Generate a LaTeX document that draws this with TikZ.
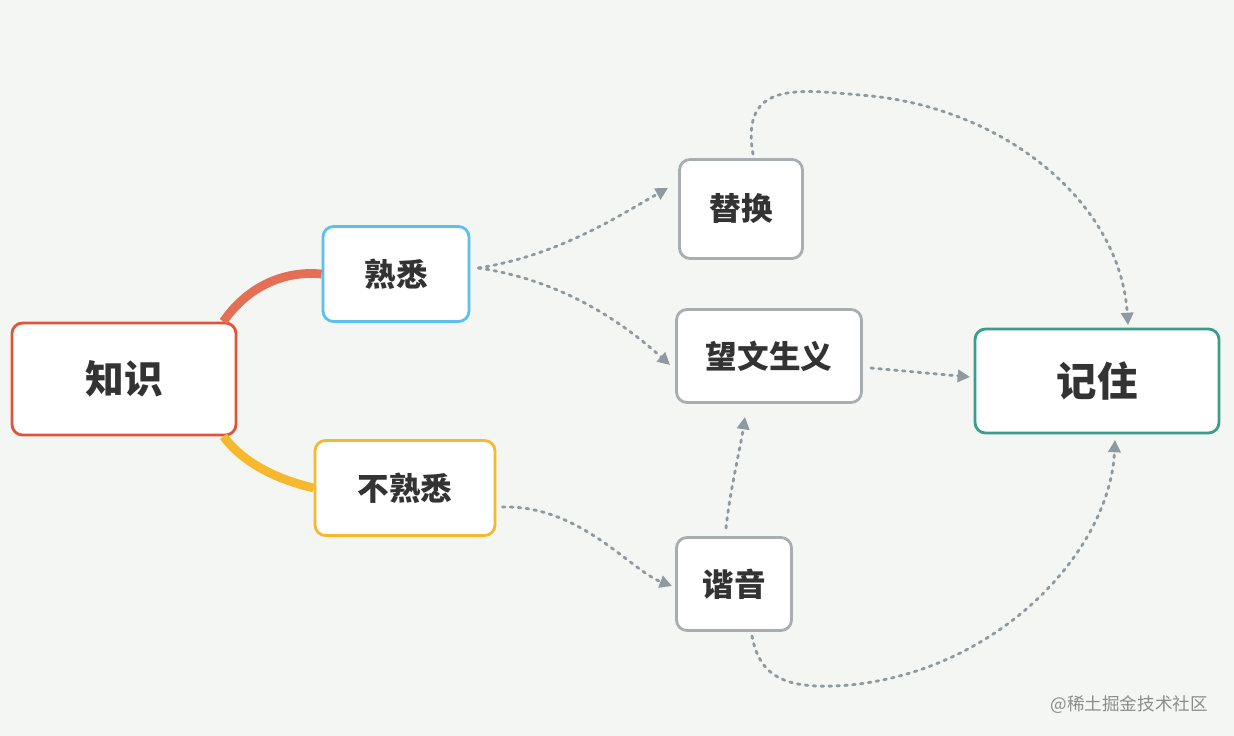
\documentclass[tikz,border=0pt]{standalone}
\usepackage{fontspec}
\newfontfamily\cjk{Noto Sans CJK SC}
\usetikzlibrary{arrows.meta}
\definecolor{bg}{HTML}{F3F6F3}
\definecolor{cred}{HTML}{E0553A}
\definecolor{cblue}{HTML}{5BC0EB}
\definecolor{cyel}{HTML}{F5B82E}
\definecolor{cteal}{HTML}{3A9E8C}
\definecolor{cgray}{HTML}{A8ADB0}
\definecolor{cline}{HTML}{8E9AA0}
\begin{document}
\begin{tikzpicture}[x=0.02cm,y=-0.02cm,
  box/.style={draw=cgray,line width=1.6pt,rounded corners=6pt,fill=white,font=\cjk\bfseries\fontsize{18}{20}\selectfont,text=black!80,inner sep=0pt},
  dots/.style={draw=cline,line width=1.6pt,dash pattern=on 1.5pt off 3pt,line cap=round,-{Triangle[length=7pt,width=7pt,fill=cline]}}]
\fill[bg] (0,0) rectangle (1234,736);
\useasboundingbox (0,0) rectangle (1234,736);
\node[box,draw=cred,minimum width=224*0.02cm,minimum height=112*0.02cm,font=\cjk\bfseries\fontsize{22}{24}\selectfont] (zs) at (124,379) {知识};
\node[box,draw=cblue,minimum width=146*0.02cm,minimum height=95*0.02cm] (sx) at (396,274) {熟悉};
\node[box,draw=cyel,minimum width=180*0.02cm,minimum height=95*0.02cm] (bsx) at (405,488) {不熟悉};
\node[box,minimum width=123*0.02cm,minimum height=99*0.02cm] (th) at (741,209) {替换};
\node[box,minimum width=185*0.02cm,minimum height=93*0.02cm] (ww) at (769,356) {望文生义};
\node[box,minimum width=115*0.02cm,minimum height=93*0.02cm] (xy) at (734,584) {谐音};
\node[box,draw=cteal,minimum width=244*0.02cm,minimum height=104*0.02cm,font=\cjk\bfseries\fontsize{23}{25}\selectfont] (jz) at (1097,381) {记住};
\draw[cred!85,line width=5pt] (zs.north east)++(-14,0) .. controls (245,290) and (280,270) .. (sx.west);
\draw[cyel,line width=5pt] (zs.south east)++(-14,0) .. controls (245,465) and (280,480) .. (bsx.west);
\draw[dots] (sx.east)++(8,-6) .. controls (560,255) and (620,215) .. (668,188);
\draw[dots] (sx.east)++(8,-6) .. controls (560,280) and (620,320) .. (670,365);
\draw[dots] (bsx.east)++(6,19) .. controls (580,505) and (630,570) .. (672,586);
\draw[dots] (xy.north)++(-8,-8) .. controls (730,490) and (740,450) .. (745,417);
\draw[dots] (ww.east)++(8,12) -- (970,377);
\draw[dots] (th.north)++(12,-4) .. controls (740,80) and (800,90) .. (860,95) .. controls (1000,105) and (1120,200) .. (1128,325);
\draw[dots] (xy.south)++(18,4) .. controls (760,680) and (790,690) .. (850,685) .. controls (1000,670) and (1110,550) .. (1115,440);
\node[font=\cjk\fontsize{10}{12}\selectfont,text=black!45,anchor=east] (wm) at (1214,705) {@稀土掘金技术社区};
\end{tikzpicture}
\end{document}
